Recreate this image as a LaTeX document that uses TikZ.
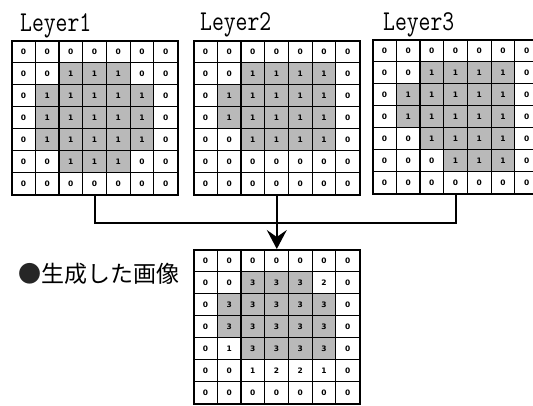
\documentclass[tikz,border=0pt]{standalone}
\usepackage{fontspec}
\newfontfamily\jpfont{Noto Sans CJK JP}
\newfontfamily\digitfont{DejaVu Sans}
\usetikzlibrary{arrows.meta}
\tikzset{
  cellbox/.style={draw=black, line width=1.2pt, minimum width=23.7pt, minimum height=22pt,
    inner sep=0pt, font=\digitfont\bfseries\fontsize{7.5}{7.5}\selectfont},
  shaded/.style={fill=gray!55},
  gridframe/.style={draw=black, line width=1.7pt, minimum width=165.9pt, minimum height=154pt, inner sep=0pt},
  layerlabel/.style={anchor=base west, inner sep=0pt, font=\ttfamily\fontsize{23}{23}\selectfont},
  wire/.style={line width=1.5pt},
  arrowwire/.style={line width=1.5pt, -{Stealth[length=19pt,width=20pt,inset=7pt]}}
}
% #1 name, #2 x0, #3 y0, #4 rows list
\newcommand\cellgrid[4]{%
  \foreach \row [count=\r] in {#4} {
    \foreach \v/\s [count=\c] in \row {
      \ifnum\s=1
        \node[cellbox, shaded, anchor=north west] (#1-\r-\c) at ({#2+(\c-1)*23.7}, {#3+(\r-1)*22}) {\v};
      \else
        \node[cellbox, anchor=north west] (#1-\r-\c) at ({#2+(\c-1)*23.7}, {#3+(\r-1)*22}) {\v};
      \fi
    }
  }
  \node[gridframe, anchor=north west] (#1) at (#2,#3) {};
}
\begin{document}
\begin{tikzpicture}[x=1pt, y=-1pt]
\clip (0,0) rectangle (533,405);
\fill[white] (0,0) rectangle (533,405);

\node[layerlabel] (t1) at (20,31) {\scalebox{1}[1.25]{Leyer1}};
\node[layerlabel] (t2) at (200,30) {\scalebox{1}[1.25]{Leyer2}};
\node[layerlabel] (t3) at (383,30) {\scalebox{1}[1.25]{Leyer3}};

\cellgrid{L1}{11}{40}{
 {0/0,0/0,0/0,0/0,0/0,0/0,0/0},
 {0/0,0/0,1/1,1/1,1/1,0/0,0/0},
 {0/0,1/1,1/1,1/1,1/1,1/1,0/0},
 {0/0,1/1,1/1,1/1,1/1,1/1,0/0},
 {0/0,1/1,1/1,1/1,1/1,1/1,0/0},
 {0/0,0/0,1/1,1/1,1/1,0/0,0/0},
 {0/0,0/0,0/0,0/0,0/0,0/0,0/0}}

\cellgrid{L2}{193}{40}{
 {0/0,0/0,0/0,0/0,0/0,0/0,0/0},
 {0/0,0/0,1/1,1/1,1/1,1/1,0/0},
 {0/0,1/1,1/1,1/1,1/1,1/1,0/0},
 {0/0,1/1,1/1,1/1,1/1,1/1,0/0},
 {0/0,0/0,1/1,1/1,1/1,1/1,0/0},
 {0/0,0/0,0/0,0/0,0/0,0/0,0/0},
 {0/0,0/0,0/0,0/0,0/0,0/0,0/0}}

\cellgrid{L3}{372}{39}{
 {0/0,0/0,0/0,0/0,0/0,0/0,0/0},
 {0/0,0/0,1/1,1/1,1/1,1/1,0/0},
 {0/0,1/1,1/1,1/1,1/1,1/1,0/0},
 {0/0,1/1,1/1,1/1,1/1,1/1,0/0},
 {0/0,0/0,1/1,1/1,1/1,1/1,0/0},
 {0/0,0/0,0/0,1/1,1/1,1/1,0/0},
 {0/0,0/0,0/0,0/0,0/0,0/0,0/0}}

\cellgrid{R}{193}{249}{
 {0/0,0/0,0/0,0/0,0/0,0/0,0/0},
 {0/0,0/0,3/1,3/1,3/1,2/0,0/0},
 {0/0,3/1,3/1,3/1,3/1,3/1,0/0},
 {0/0,3/1,3/1,3/1,3/1,3/1,0/0},
 {0/0,1/0,3/1,3/1,3/1,3/1,0/0},
 {0/0,0/0,1/0,2/0,2/0,1/0,0/0},
 {0/0,0/0,0/0,0/0,0/0,0/0,0/0}}

\coordinate (jn) at (0,223);
\draw[wire] (L1.south) |- (jn -| L3.south) -- (L3.south);
\draw[arrowwire] (L2.south) -- (R.north);

\node[anchor=west, inner sep=0pt, font=\jpfont\fontsize{23}{23}\selectfont] (cap) at (18,274)
  {\textcolor{black!85}{●}生成した画像};
\end{tikzpicture}
\end{document}
